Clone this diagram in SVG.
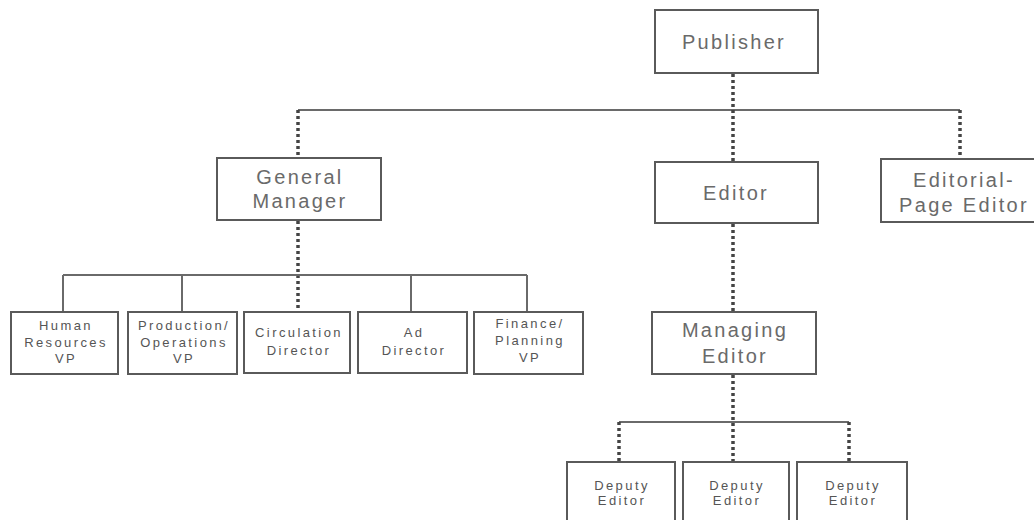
<svg xmlns="http://www.w3.org/2000/svg" width="1034" height="520" viewBox="0 0 1034 520">
<style>
.box{fill:#fff;stroke:#5a5a5a;stroke-width:2}
.big{font-family:"Liberation Sans",Arial,sans-serif;font-size:20px;fill:#6a6a6a;letter-spacing:2.3px;text-anchor:middle}
.sm{font-family:"Liberation Sans",Arial,sans-serif;font-size:13px;fill:#555;letter-spacing:2.4px;text-anchor:middle}
.solid{stroke:#6a6a6a;stroke-width:2;fill:none}
.dot{stroke:#444;stroke-width:3.5;stroke-dasharray:3 3;fill:none}
</style>
<rect width="1034" height="520" fill="#fff"/>
<g id="connectors">
<line class="solid" x1="298" y1="110" x2="960" y2="110"/>
<line class="dot" x1="733" y1="74" x2="733" y2="161"/>
<line class="dot" x1="298" y1="110" x2="298" y2="157"/>
<line class="dot" x1="960" y1="110" x2="960" y2="158"/>
<line class="dot" x1="298" y1="221" x2="298" y2="311"/>
<line class="solid" x1="63" y1="275" x2="527" y2="275"/>
<line class="solid" x1="63" y1="275" x2="63" y2="312"/>
<line class="solid" x1="182" y1="275" x2="182" y2="312"/>
<line class="solid" x1="411" y1="275" x2="411" y2="312"/>
<line class="solid" x1="527" y1="275" x2="527" y2="312"/>
<line class="dot" x1="733" y1="224" x2="733" y2="311"/>
<line class="dot" x1="733" y1="375" x2="733" y2="461"/>
<line class="solid" x1="619" y1="422" x2="849" y2="422"/>
<line class="dot" x1="619" y1="422" x2="619" y2="461"/>
<line class="dot" x1="849" y1="422" x2="849" y2="461"/>
</g>
<g id="publisher"><rect class="box" x="655" y="10" width="163" height="63"/><text class="big" x="734" y="49">Publisher</text></g>
<g id="general-manager"><rect class="box" x="217" y="158" width="164" height="62"/><text class="big" x="300" y="184">General</text><text class="big" x="300" y="208">Manager</text></g>
<g id="editor"><rect class="box" x="655" y="162" width="163" height="61"/><text class="big" x="736" y="200">Editor</text></g>
<g id="editorial-page-editor"><rect class="box" x="881" y="159" width="166" height="63"/><text class="big" x="964" y="187">Editorial-</text><text class="big" x="964" y="212">Page Editor</text></g>
<g id="managing-editor"><rect class="box" x="652" y="312" width="164" height="62"/><text class="big" x="735" y="337">Managing</text><text class="big" x="735" y="363">Editor</text></g>
<g id="hr-vp"><rect class="box" x="11" y="312" width="107" height="62"/><text class="sm" x="66" y="330">Human</text><text class="sm" x="66" y="347">Resources</text><text class="sm" x="66" y="363">VP</text></g>
<g id="production-vp"><rect class="box" x="128" y="312" width="109" height="62"/><text class="sm" x="184" y="330">Production/</text><text class="sm" x="184" y="347">Operations</text><text class="sm" x="184" y="363">VP</text></g>
<g id="circulation-director"><rect class="box" x="244" y="312" width="106" height="61"/><text class="sm" x="299" y="337">Circulation</text><text class="sm" x="299" y="355">Director</text></g>
<g id="ad-director"><rect class="box" x="358" y="312" width="109" height="61"/><text class="sm" x="414" y="337">Ad</text><text class="sm" x="414" y="355">Director</text></g>
<g id="finance-vp"><rect class="box" x="474" y="312" width="109" height="62"/><text class="sm" x="530" y="328">Finance/</text><text class="sm" x="530" y="345">Planning</text><text class="sm" x="530" y="362">VP</text></g>
<g id="deputy-editor-1"><rect class="box" x="567" y="462" width="108" height="70"/><text class="sm" x="622" y="490">Deputy</text><text class="sm" x="622" y="505">Editor</text></g>
<g id="deputy-editor-2"><rect class="box" x="683" y="462" width="106" height="70"/><text class="sm" x="737" y="490">Deputy</text><text class="sm" x="737" y="505">Editor</text></g>
<g id="deputy-editor-3"><rect class="box" x="797" y="462" width="110" height="70"/><text class="sm" x="853" y="490">Deputy</text><text class="sm" x="853" y="505">Editor</text></g>
</svg>
